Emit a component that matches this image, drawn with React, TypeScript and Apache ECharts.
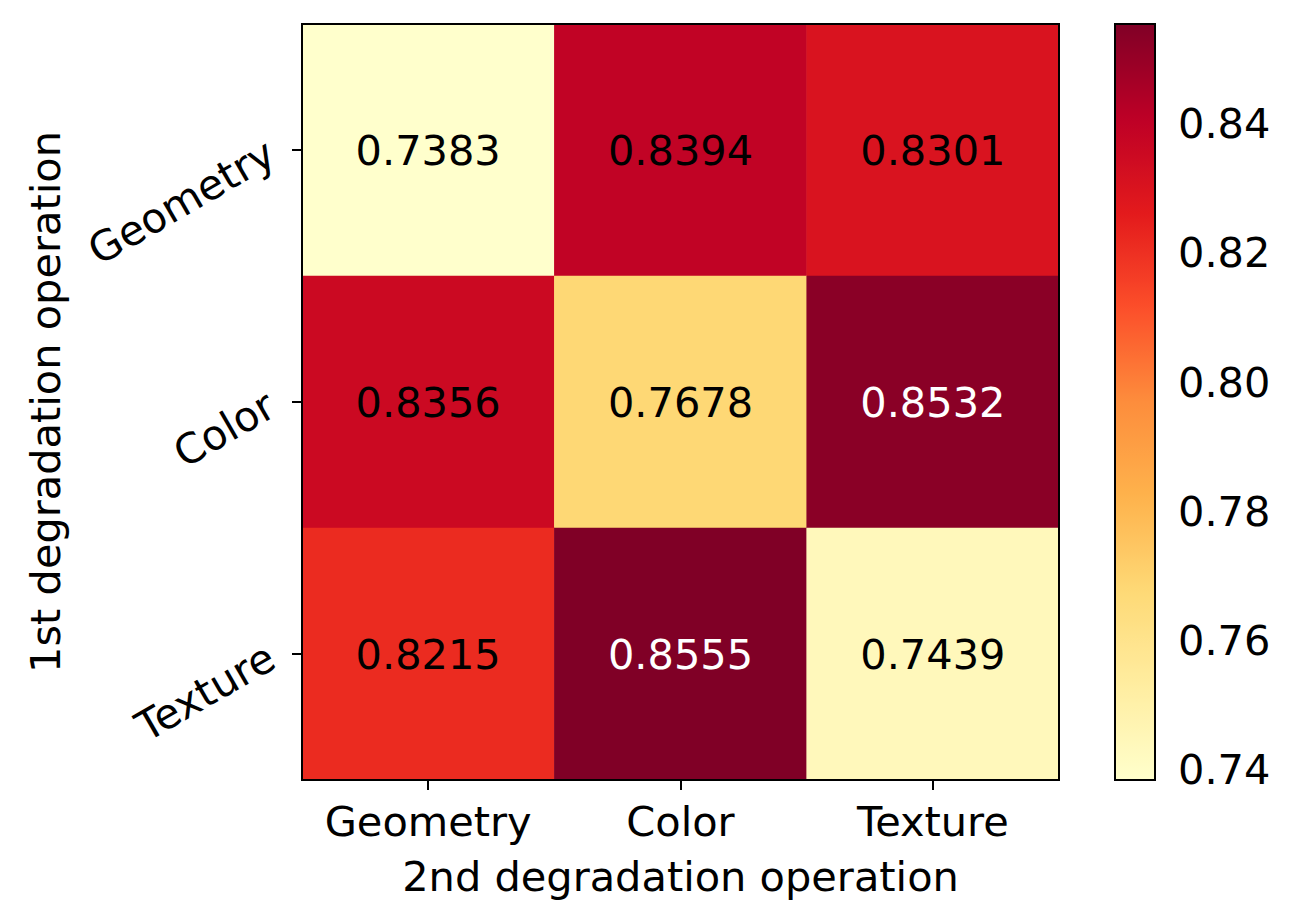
import React, { useEffect, useRef } from "react";
import * as echarts from "echarts";

const colCategories = ["Geometry", "Color", "Texture"];
const rowCategories = ["Geometry", "Color", "Texture"];
const rowGeometry = [0.7383, 0.8394, 0.8301];
const rowColor = [0.8356, 0.7678, 0.8532];
const rowTexture = [0.8215, 0.8555, 0.7439];
const colorbarTicks = [0.74, 0.76, 0.78, 0.8, 0.82, 0.84];
const valueMin = 0.7383;
const valueMax = 0.8555;

const YlOrRd = ["#ffffcc", "#ffeda0", "#fed976", "#feb24c", "#fd8d3c", "#fc4e2a", "#e31a1c", "#bd0026", "#800026"];
const FONT = "DejaVu Sans";
const FS = 41.5;

const GRID = { left: 302, top: 24, width: 757, height: 756 };
const CBAR = { left: 1115, top: 24, width: 40, height: 756 };

export default function App() {
  const ref = useRef<HTMLDivElement>(null);
  useEffect(() => {
    if (!ref.current) return;
    const chart = echarts.init(ref.current, undefined, { renderer: "svg" });
    const rows = [rowGeometry, rowColor, rowTexture];
    const data: any[] = [];
    rows.forEach((row, yi) => {
      row.forEach((v, xi) => {
        data.push({
          value: [xi, yi, v],
          label: { color: v > 0.85 ? "#ffffff" : "#000000" },
        });
      });
    });
    const axisLine = { show: true, lineStyle: { color: "#000", width: 2 } };
    const axisTick = { show: true, length: 10, lineStyle: { color: "#000", width: 2 } };
    chart.setOption({
      animation: false,
      backgroundColor: "#ffffff",
      textStyle: { fontFamily: FONT },
      grid: [
        { ...GRID },
        { ...CBAR },
      ],
      xAxis: [
        {
          type: "category",
          gridIndex: 0,
          data: colCategories,
          axisLine,
          axisTick: { ...axisTick, alignWithLabel: true },
          axisLabel: { color: "#000", fontSize: FS, fontFamily: FONT, margin: 20, interval: 0, hideOverlap: false },
          splitLine: { show: false },
          name: "2nd degradation operation",
          nameLocation: "middle",
          nameGap: 75,
          nameTextStyle: { color: "#000", fontSize: FS, fontFamily: FONT },
        },
        { type: "value", gridIndex: 1, show: false, min: 0, max: 1 },
      ],
      yAxis: [
        {
          type: "category",
          gridIndex: 0,
          data: rowCategories,
          inverse: true,
          axisLine,
          axisTick: { ...axisTick, alignWithLabel: true },
          axisLabel: { color: "#000", fontSize: FS, fontFamily: FONT, margin: 31, rotate: 30, interval: 0, hideOverlap: false },
          splitLine: { show: false },
          name: "1st degradation operation",
          nameLocation: "middle",
          nameRotate: 90,
          nameGap: 236,
          nameTextStyle: { color: "#000", fontSize: FS, fontFamily: FONT },
        },
        {
          type: "value",
          gridIndex: 1,
          position: "right",
          min: valueMin,
          max: valueMax,
          axisLine: { show: false },
          axisTick: { ...axisTick, customValues: colorbarTicks },
          axisLabel: {
            color: "#000",
            fontSize: FS,
            fontFamily: FONT,
            margin: 23,
            customValues: colorbarTicks,
            formatter: (v: number) => v.toFixed(2),
          },
          splitLine: { show: false },
        },
      ],
      visualMap: {
        type: "continuous",
        seriesIndex: 0,
        min: valueMin,
        max: valueMax,
        calculable: false,
        orient: "vertical",
        left: CBAR.left,
        top: CBAR.top,
        padding: 0,
        itemWidth: CBAR.width,
        itemHeight: CBAR.height,
        text: null,
        inRange: { color: YlOrRd },
        hoverLink: false,
      },
      series: [
        {
          type: "heatmap",
          xAxisIndex: 0,
          yAxisIndex: 0,
          data,
          itemStyle: { borderWidth: 0 },
          label: {
            show: true,
            fontSize: FS,
            fontFamily: FONT,
            formatter: (p: any) => p.value[2].toFixed(4),
          },
          emphasis: { disabled: true },
        },
      ],
      graphic: [
        {
          type: "rect",
          z: 100,
          shape: { x: GRID.left, y: GRID.top, width: GRID.width, height: GRID.height },
          style: { fill: "none", stroke: "#000", lineWidth: 2 },
        },
        {
          type: "rect",
          z: 100,
          shape: { x: CBAR.left, y: CBAR.top, width: CBAR.width, height: CBAR.height },
          style: { fill: "none", stroke: "#000", lineWidth: 2 },
        },
      ],
    });
    return () => chart.dispose();
  }, []);
  return (
    <div
      ref={ref}
      style={{ position: "fixed", left: 0, top: 0, width: 1295, height: 923, background: "#fff" }}
    />
  );
}
